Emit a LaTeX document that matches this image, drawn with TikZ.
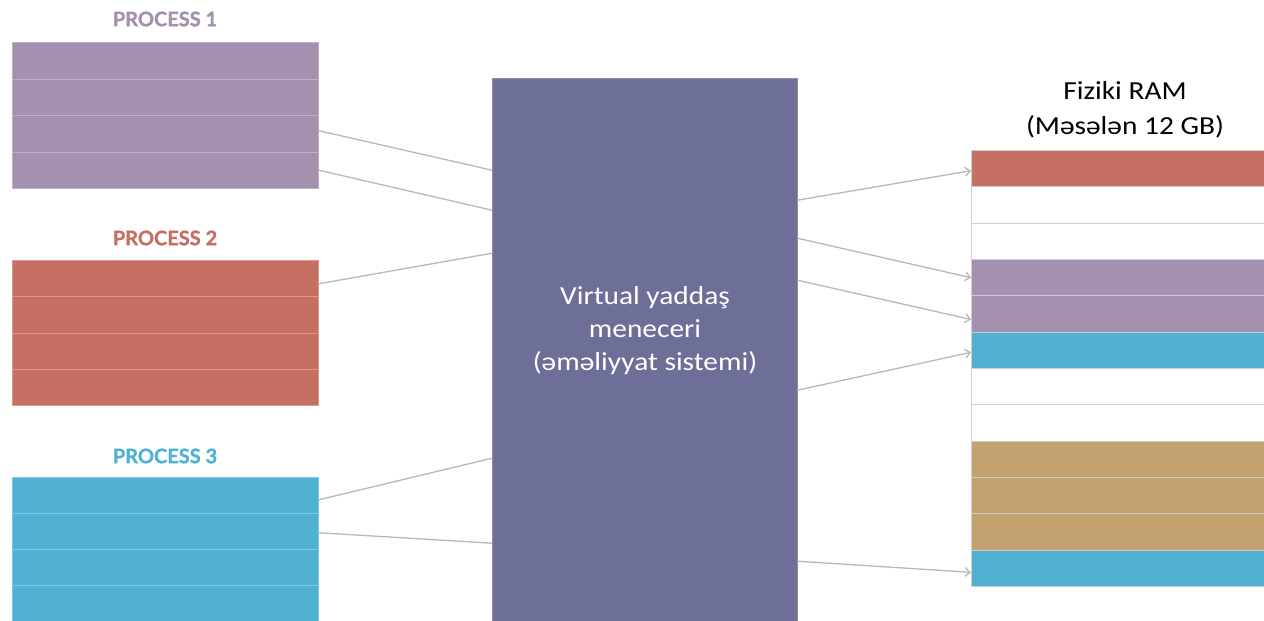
\documentclass[tikz,border=0pt]{standalone}
\usepackage{fontspec}
\setmainfont{Carlito}
\newfontfamily\bodyfont[FakeStretch=1.13]{Carlito}
\newfontfamily\titlefont[BoldFeatures={FakeBold=1.2}]{Lato}
\usetikzlibrary{arrows.meta}
\definecolor{cpurple}{HTML}{A391AF}
\definecolor{cred}{HTML}{C66F63}
\definecolor{cblue}{HTML}{50B1D2}
\definecolor{ctan}{HTML}{C4A270}
\definecolor{cvm}{HTML}{6E6F98}
\definecolor{cline}{HTML}{B8B8B8}
\tikzset{
  prow/.style={draw=#1!70!white, line width=1pt, fill=#1, minimum width=306pt, minimum height=36.5pt, inner sep=0pt, anchor=north west},
  rrow/.style={draw=cline!70!white, line width=1pt, fill=#1, minimum width=310pt, minimum height=36.33pt, inner sep=0pt, anchor=north west},
  ptitle/.style={font=\titlefont\bfseries\fontsize{20}{22}\selectfont, text=#1},
  conn/.style={draw=cline, line width=1.3pt},
  arr/.style={conn, -{Straight Barb[length=5pt,width=9pt]}},
  vmtext/.style={font=\bodyfont\fontsize{26}{33}\selectfont, text=white, align=center},
}
\begin{document}
\begin{tikzpicture}[x=1pt,y=-1pt]
\useasboundingbox (0,0) rectangle (1264,621);
% titles
\node[ptitle=cpurple] (t1) at (165,19) {PROCESS 1};
\node[ptitle=cred] (t2) at (165,238) {PROCESS 2};
\node[ptitle=cblue] (t3) at (165,456) {PROCESS 3};
% process 1
\node[prow=cpurple] (p1r1) at (12,42) {};
\node[prow=cpurple] (p1r2) at (12,78.5) {};
\node[prow=cpurple] (p1r3) at (12,115) {};
\node[prow=cpurple] (p1r4) at (12,151.5) {};
% process 2
\node[prow=cred] (p2r1) at (12,260) {};
\node[prow=cred] (p2r2) at (12,296.25) {};
\node[prow=cred] (p2r3) at (12,332.5) {};
\node[prow=cred] (p2r4) at (12,368.75) {};
% process 3
\node[prow=cblue] (p3r1) at (12,477) {};
\node[prow=cblue] (p3r2) at (12,513) {};
\node[prow=cblue] (p3r3) at (12,549) {};
\node[prow=cblue] (p3r4) at (12,585) {};
% virtual memory manager (top 78, centre 358)
\node[fill=cvm, draw=cvm!80!white, minimum width=305pt, minimum height=560pt, inner sep=0pt, anchor=north west] (vm) at (492,78) {};
\node[vmtext] (vmt) at (645,331) {Virtual yaddaş\\meneceri\\(əməliyyat sistemi)};
% RAM
\node[font=\bodyfont\fontsize{26}{35}\selectfont, align=center] (ramt) at (1125,110) {Fiziki RAM\\(Məsələn 12 GB)};
\node[rrow=cred] (r1) at (971,150) {};
\node[rrow=white] (r2) at (971,186.33) {};
\node[rrow=white] (r3) at (971,222.67) {};
\node[rrow=cpurple] (r4) at (971,259) {};
\node[rrow=cpurple] (r5) at (971,295.33) {};
\node[rrow=cblue] (r6) at (971,331.67) {};
\node[rrow=white] (r7) at (971,368) {};
\node[rrow=white] (r8) at (971,404.33) {};
\node[rrow=ctan] (r9) at (971,440.67) {};
\node[rrow=ctan] (r10) at (971,477) {};
\node[rrow=ctan] (r11) at (971,513.33) {};
\node[rrow=cblue] (r12) at (971,549.67) {};
% connectors from processes to manager
\draw[conn] ([yshift=3pt]p1r3.east) -- ([yshift=188pt]vm.west);
\draw[conn] (p1r4.east) -- ([yshift=148pt]vm.west);
\draw[conn] ([yshift=-5pt]p2r1.east) -- ([yshift=105pt]vm.west);
\draw[conn] ([yshift=-4pt]p3r1.east) -- ([yshift=-100pt]vm.west);
\draw[conn] ([yshift=-1pt]p3r2.east) -- ([yshift=-185pt]vm.west);
% arrows from manager to RAM
\draw[arr] ([yshift=158pt]vm.east) -- ([yshift=-2pt]r1.west);
\draw[arr] ([yshift=120pt]vm.east) -- (r4.west);
\draw[arr] ([yshift=78pt]vm.east) -- ([yshift=-5.5pt]r5.west);
\draw[arr] ([yshift=-32pt]vm.east) -- ([yshift=-2pt]r6.west);
\draw[arr] ([yshift=-203pt]vm.east) -- ([yshift=-4pt]r12.west);
\end{tikzpicture}
\end{document}
